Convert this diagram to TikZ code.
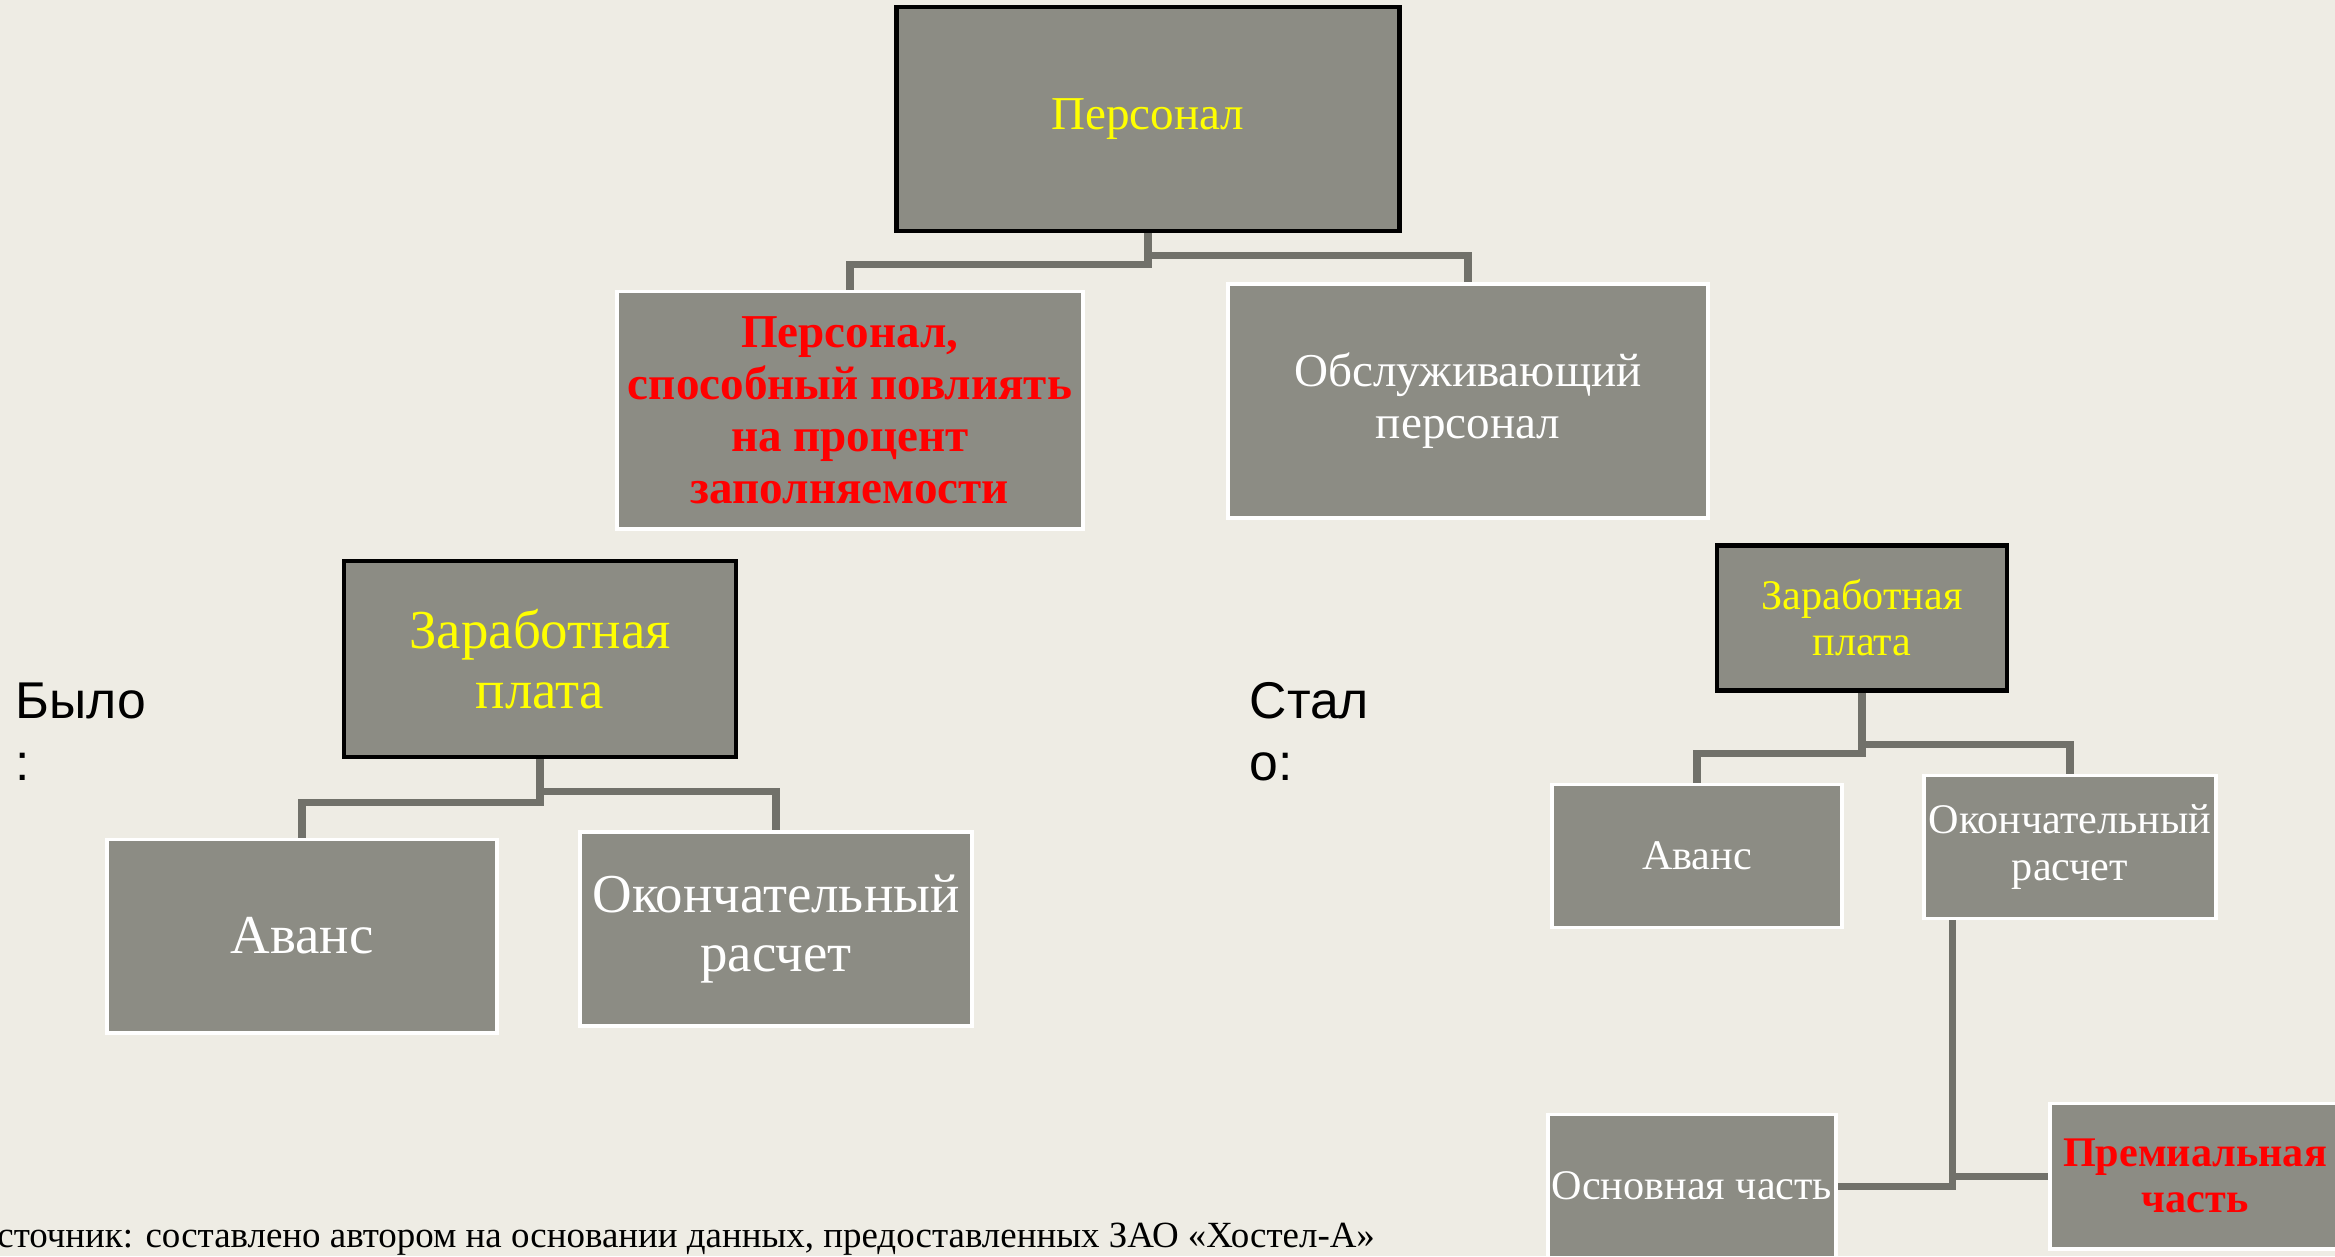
\documentclass[tikz,border=0pt]{standalone}
\usepackage{fontspec}
\setmainfont{Liberation Serif}
\setsansfont{Liberation Sans}
\usetikzlibrary{positioning}
\usetikzlibrary{calc}
\definecolor{bgcol}{RGB}{238,236,228}
\definecolor{boxgray}{RGB}{140,140,132}
\definecolor{linkgray}{RGB}{113,113,106}
\definecolor{hiyellow}{RGB}{255,255,0}
\definecolor{hired}{RGB}{255,0,0}

\tikzset{
  box/.style={rectangle, fill=boxgray, inner sep=0pt, align=center, text=white},
  darkbox/.style={box, draw=black, line width=1.3pt},
  lightbox/.style={box, draw=white, line width=1.1pt},
  link/.style={draw=linkgray, line width=2pt},
  bigfont/.style={font=\fontsize{15.6}{17}\selectfont},
  midfont/.style={font=\fontsize{13.4}{14.8}\selectfont},
  smallfont/.style={font=\fontsize{12}{13.1}\selectfont},
}

\begin{document}
\begin{tikzpicture}[x=0.01cm, y=-0.01cm]
    \useasboundingbox (0,0) rectangle (2335,1256);
    \fill[bgcol] (0,0) rectangle (2335,1256);
    \clip (0,0) rectangle (2335,1256);

    % top level
    \node[darkbox, midfont, text=hiyellow, minimum width=5.03cm, minimum height=2.24cm] (pers) at (1148,119) {Персонал};
    \node[lightbox, midfont, text=hired, minimum width=4.66cm, minimum height=2.37cm] (infl) at (850,410)
        {\bfseries Персонал,\\\bfseries способный повлиять\\\bfseries на процент\\\bfseries заполняемости};
    \node[lightbox, midfont, minimum width=4.80cm, minimum height=2.34cm] (serv) at (1468,401) {Обслуживающий\\персонал};

    % before
    \node[darkbox, bigfont, text=hiyellow, minimum width=3.92cm, minimum height=1.96cm] (zpold) at (540,659) {Заработная\\плата};
    \node[lightbox, bigfont, minimum width=3.90cm, minimum height=1.93cm] (avold) at (302,936) {Аванс};
    \node[lightbox, bigfont, minimum width=3.91cm, minimum height=1.94cm] (okold) at (776,929) {Окончательный\\расчет};

    % after
    \node[darkbox, smallfont, text=hiyellow, minimum width=2.90cm, minimum height=1.45cm] (zpnew) at (1862,618) {Заработная\\плата};
    \node[lightbox, smallfont, minimum width=2.89cm, minimum height=1.43cm] (avnew) at (1697,856) {Аванс};
    \node[lightbox, smallfont, minimum width=2.91cm, minimum height=1.43cm] (oknew) at (2070,847) {Окончательный\\расчет};
    \node[lightbox, smallfont, minimum width=2.87cm, minimum height=1.43cm] (osn) at (1692,1186) {Основная часть};
    \node[lightbox, smallfont, text=hired, minimum width=2.90cm, minimum height=1.45cm] (prem) at (2195,1176) {\bfseries Премиальная\\\bfseries часть};

    % connectors
    \draw[link] (pers.south) -- ++(0,31) -| (infl.north);
    \draw[link] (pers.south) -- ++(0,22) -| (serv.north);
    \draw[link] (zpold.south) -- ++(0,43) -| (avold.north);
    \draw[link] (zpold.south) -- ++(0,32) -| (okold.north);
    \draw[link] (zpnew.south) -- ++(0,61) -| (avnew.north);
    \draw[link] (zpnew.south) -- ++(0,52) -| (oknew.north);
    \coordinate (okfoot) at ($(oknew.south west)+(30,0)$);
    \draw[link] (okfoot) |- (osn.east);
    \draw[link] (okfoot) |- (prem.west);

    % side labels
    \node[anchor=north west, inner sep=0pt, align=left, font=\sffamily\fontsize{14.7}{17.6}\selectfont] (was) at (15,682) {Было\\:};
    \node[anchor=north west, inner sep=0pt, align=left, font=\sffamily\fontsize{14.7}{17.6}\selectfont] (now) at (1249,682) {Стал\\о:};

    % source
    \node[anchor=base west, inner sep=0pt, font=\fontsize{10.5}{12.5}\selectfont] (src) at (-30,1247)
        {Источник: составлено автором на основании данных, предоставленных ЗАО «Хостел-А»};
\end{tikzpicture}
\end{document}
